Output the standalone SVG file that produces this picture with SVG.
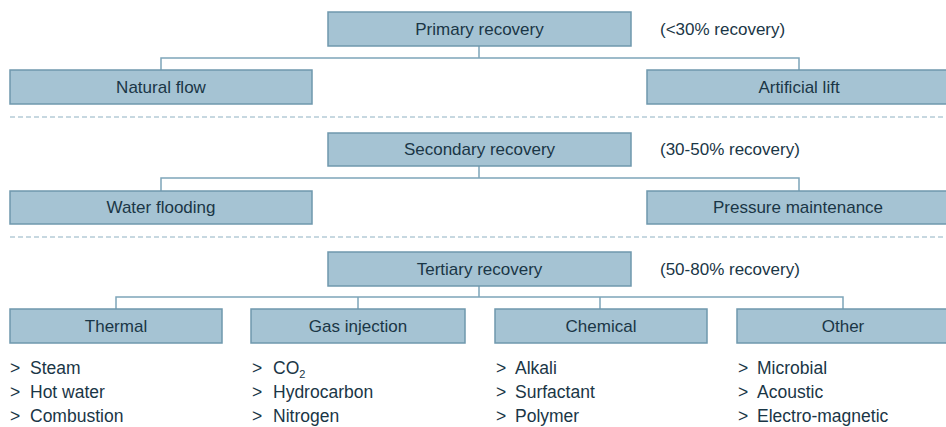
<svg xmlns="http://www.w3.org/2000/svg" width="946" height="427" viewBox="0 0 946 427">
<style>
.box{fill:#a5c3d3;stroke:#6f98ad;stroke-width:1.5}
.lbl{font-family:"Liberation Sans",Arial,sans-serif;font-size:17px;fill:#1a3646;text-anchor:middle}
.note{font-family:"Liberation Sans",Arial,sans-serif;font-size:17px;fill:#1a3646}
.item{font-family:"Liberation Sans",Arial,sans-serif;font-size:17.5px;fill:#1a3646}
.con{fill:none;stroke:#7ea5b9;stroke-width:1.5}
.dash{stroke:#8fb1c2;stroke-width:1;stroke-dasharray:5 3}
</style>
<rect width="946" height="427" fill="#ffffff"/>
<g id="separators">
<line class="dash" x1="10" y1="117" x2="946" y2="117"/>
<line class="dash" x1="10" y1="237" x2="946" y2="237"/>
</g>
<g id="connectors">
<path class="con" d="M479 46V58M161 70V58H799V70"/>
<path class="con" d="M479 166V178M161 191V178H799V191"/>
<path class="con" d="M479 286V297M116 309V297H843V309M358 297V309M600 297V309"/>
</g>
<g id="primary"><rect class="box" x="328" y="12" width="303" height="34"/><text class="lbl" x="479.5" y="35">Primary recovery</text></g>
<text class="note" x="660" y="35">(&lt;30% recovery)</text>
<g id="natural-flow"><rect class="box" x="10" y="70" width="302" height="34"/><text class="lbl" x="161" y="93">Natural flow</text></g>
<g id="artificial-lift"><rect class="box" x="647" y="70" width="305" height="34"/><text class="lbl" x="799" y="93">Artificial lift</text></g>
<g id="secondary"><rect class="box" x="328" y="133" width="303" height="33"/><text class="lbl" x="479.5" y="155">Secondary recovery</text></g>
<text class="note" x="660" y="155">(30-50% recovery)</text>
<g id="water-flooding"><rect class="box" x="10" y="191" width="302" height="33"/><text class="lbl" x="161" y="213">Water flooding</text></g>
<g id="pressure-maintenance"><rect class="box" x="647" y="191" width="305" height="33"/><text class="lbl" x="798" y="213">Pressure maintenance</text></g>
<g id="tertiary"><rect class="box" x="328" y="252" width="303" height="34"/><text class="lbl" x="479.5" y="275">Tertiary recovery</text></g>
<text class="note" x="660" y="275">(50-80% recovery)</text>
<g id="thermal"><rect class="box" x="10" y="309" width="212" height="34"/><text class="lbl" x="116" y="332">Thermal</text>
<text class="item" y="374"><tspan x="10">&gt;</tspan><tspan x="30">Steam</tspan></text>
<text class="item" y="398"><tspan x="10">&gt;</tspan><tspan x="30">Hot water</tspan></text>
<text class="item" y="422"><tspan x="10">&gt;</tspan><tspan x="30">Combustion</tspan></text></g>
<g id="gas-injection"><rect class="box" x="251" y="309" width="214" height="34"/><text class="lbl" x="358" y="332">Gas injection</text>
<text class="item" y="374"><tspan x="252">&gt;</tspan><tspan x="273">CO</tspan><tspan font-size="11" dy="4">2</tspan></text>
<text class="item" y="398"><tspan x="252">&gt;</tspan><tspan x="273">Hydrocarbon</tspan></text>
<text class="item" y="422"><tspan x="252">&gt;</tspan><tspan x="273">Nitrogen</tspan></text></g>
<g id="chemical"><rect class="box" x="495" y="309" width="212" height="34"/><text class="lbl" x="601" y="332">Chemical</text>
<text class="item" y="374"><tspan x="496">&gt;</tspan><tspan x="515">Alkali</tspan></text>
<text class="item" y="398"><tspan x="496">&gt;</tspan><tspan x="515">Surfactant</tspan></text>
<text class="item" y="422"><tspan x="496">&gt;</tspan><tspan x="515">Polymer</tspan></text></g>
<g id="other"><rect class="box" x="737" y="309" width="215" height="34"/><text class="lbl" x="843" y="332">Other</text>
<text class="item" y="374"><tspan x="738">&gt;</tspan><tspan x="757">Microbial</tspan></text>
<text class="item" y="398"><tspan x="738">&gt;</tspan><tspan x="757">Acoustic</tspan></text>
<text class="item" y="422"><tspan x="738">&gt;</tspan><tspan x="757">Electro-magnetic</tspan></text></g>
</svg>
